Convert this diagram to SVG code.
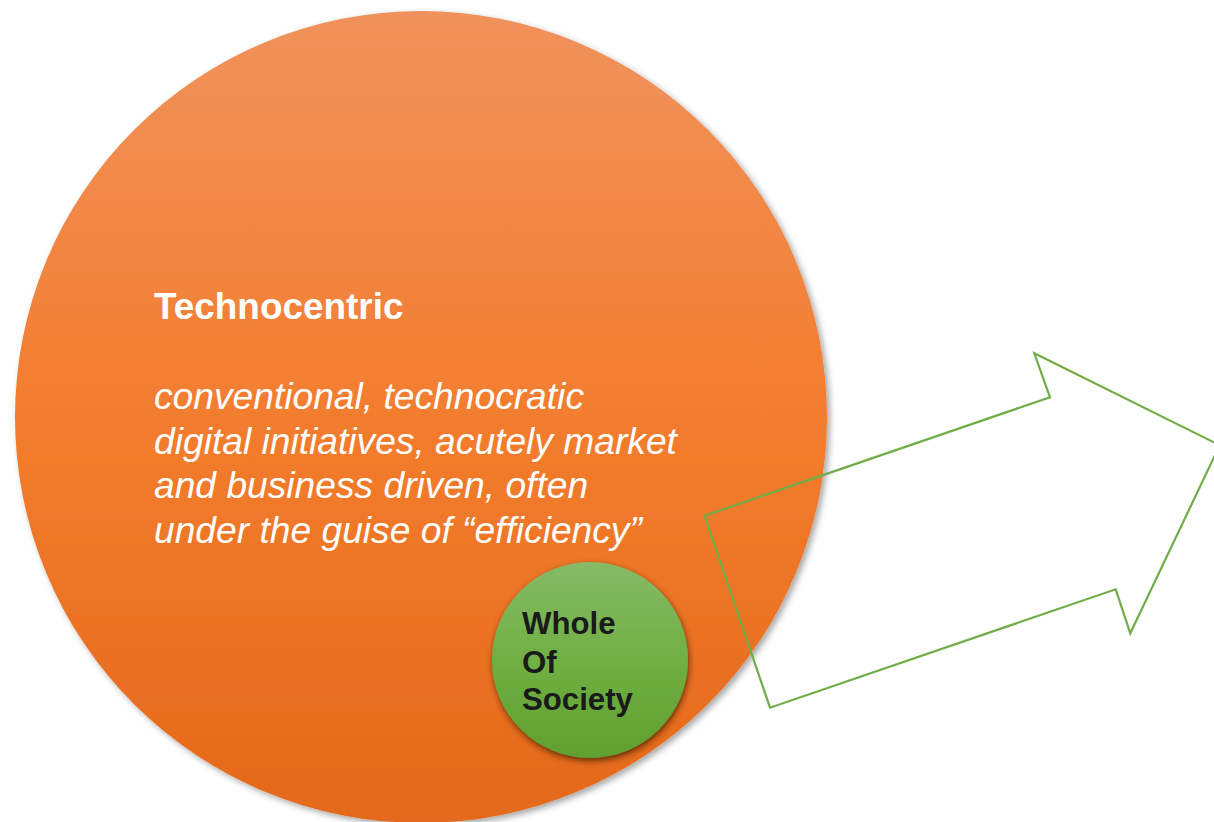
<svg xmlns="http://www.w3.org/2000/svg" width="1214" height="822" viewBox="0 0 1214 822">
  <defs>
    <linearGradient id="gOrange" x1="0" y1="0" x2="0" y2="1">
      <stop offset="0" stop-color="#F0925C"/>
      <stop offset="0.5" stop-color="#F37D2E"/>
      <stop offset="1" stop-color="#E4691A"/>
    </linearGradient>
    <linearGradient id="gGreen" x1="0" y1="0" x2="0" y2="1">
      <stop offset="0" stop-color="#86BA67"/>
      <stop offset="0.5" stop-color="#70B043"/>
      <stop offset="1" stop-color="#60A030"/>
    </linearGradient>
    <filter id="shBig" x="-10%" y="-10%" width="120%" height="120%">
      <feGaussianBlur in="SourceAlpha" stdDeviation="3"/>
      <feOffset dx="3" dy="3" result="b"/>
      <feFlood flood-color="#000" flood-opacity="0.35"/>
      <feComposite in2="b" operator="in"/>
      <feMerge><feMergeNode/><feMergeNode in="SourceGraphic"/></feMerge>
    </filter>
    <filter id="shSmall" x="-20%" y="-20%" width="140%" height="140%">
      <feGaussianBlur in="SourceAlpha" stdDeviation="3"/>
      <feOffset dx="1" dy="3" result="b"/>
      <feFlood flood-color="#3a1a00" flood-opacity="0.75"/>
      <feComposite in2="b" operator="in"/>
      <feMerge><feMergeNode/><feMergeNode in="SourceGraphic"/></feMerge>
    </filter>
  </defs>
  <style>
    .title { font-family: "Liberation Sans", Arial, sans-serif; font-weight: bold; font-size: 36.9px; fill: #FFFFFF; }
    .desc { font-family: "Liberation Sans", Arial, sans-serif; font-style: italic; font-size: 37.2px; fill: #FFFFFF; }
    .small { font-family: "Liberation Sans", Arial, sans-serif; font-weight: bold; font-size: 31.2px; fill: #1A1A1A; }
    .arrow { fill: none; stroke: #70AD47; stroke-width: 2.2; stroke-linejoin: miter; }
  </style>
  <rect width="1214" height="822" fill="#FFFFFF"/>
  <g id="technocentric">
    <circle cx="421" cy="417" r="406" fill="url(#gOrange)" filter="url(#shBig)"/>
    <text class="title" x="154" y="319">Technocentric</text>
    <text class="desc" x="154" y="409">conventional, technocratic</text>
    <text class="desc" x="154" y="453.5">digital initiatives, acutely market</text>
    <text class="desc" x="154" y="498">and business driven, often</text>
    <text class="desc" x="154" y="542.5">under the guise of “efficiency”</text>
  </g>
  <g id="whole-of-society">
    <circle cx="590" cy="660" r="98" fill="url(#gGreen)" filter="url(#shSmall)"/>
    <text class="small" x="522" y="634">Whole</text>
    <text class="small" x="522" y="672.5">Of</text>
    <text class="small" x="522" y="710">Society</text>
  </g>
  <g id="connectors">
    <polygon id="arrow" class="arrow" points="704.5,515.7 1050,397.3 1034.3,353.3 1219.7,445.2 1130.3,633.3 1115.7,589.3 770,707.7"/>
  </g>
</svg>
